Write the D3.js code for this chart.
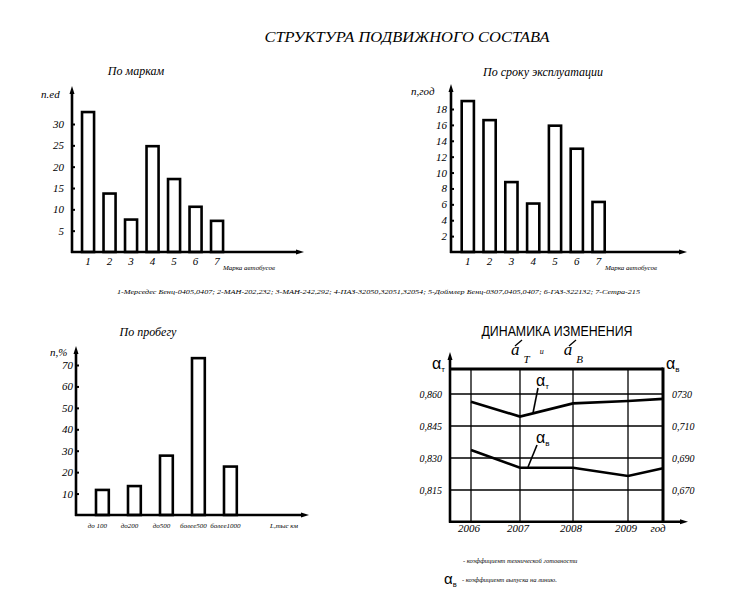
<!DOCTYPE html>
<html>
<head>
<meta charset="utf-8">
<script src="https://cdn.jsdelivr.net/npm/d3@7"></script>
<style>
  body { margin: 0; background: #fff; }
  text { font-family: "Liberation Serif", "Times New Roman", serif; font-style: italic; fill: #000; }
  text.sans { font-family: "Liberation Sans", Arial, sans-serif; font-style: normal; }
</style>
</head>
<body>
<svg id="chart" width="751" height="600"></svg>
<script>
// данные
var brandCats = ["1", "2", "3", "4", "5", "6", "7"];
var brandCounts = [32.8, 13.7, 7.6, 24.8, 17.1, 10.6, 7.3];
var brandTicks = [5, 10, 15, 20, 25, 30];

var ageValues = [19.0, 16.6, 8.8, 6.1, 15.9, 13.0, 6.3];
var ageTicks = [2, 4, 6, 8, 10, 12, 14, 16, 18];

var mileageCats = ["до 100", "до200", "до500", "более500", "более1000"];
var mileageShares = [11.7, 13.5, 27.7, 73.2, 22.6];
var mileageTicks = [10, 20, 30, 40, 50, 60, 70];

var years = [2006, 2007, 2008, 2009, 2010];
var yearLabels = ["2006", "2007", "2008", "2009", "год"];
var alphaT = [0.8564, 0.8494, 0.8556, 0.8567, 0.8577];
var alphaB = [0.6950, 0.6839, 0.6839, 0.6788, 0.6836];
var alphaTTicks = [0.815, 0.830, 0.845, 0.860];
var alphaTLabels = ["0,815", "0,830", "0,845", "0,860"];
var alphaBTicks = [0.670, 0.690, 0.710, 0.730];
var alphaBLabels = ["0,670", "0,690", "0,710", "0730"];

var legendText = "1-Мерседес Бенц-0405,0407; 2-МАН-202,232; 3-МАН-242,292;  4-ПАЗ-32050,32051,32054;   5-Доймлер Бенц-0307,0405,0407; 6-ГАЗ-322132; 7-Сетра-215";

var svg = d3.select("#chart");
svg.append("rect").attr("width", 751).attr("height", 600).attr("fill", "#fff");

svg.append("text")
  .attr("x", 407).attr("y", 42)
  .attr("text-anchor", "middle")
  .attr("font-size", "14px")
  .attr("textLength", 285).attr("lengthAdjust", "spacingAndGlyphs")
  .text("СТРУКТУРА ПОДВИЖНОГО СОСТАВА");

// стрелка на конце оси
function arrow (g, x, y, dir){
  var p;
  if (dir == "up") p = [[x, y], [x-2.5, y+8], [x+2.5, y+8]];
  else p = [[x, y], [x-8, y-2.5], [x-8, y+2.5]];
  g.append("path").attr("d", "M" + p.join("L") + "Z").attr("fill", "#000");
}

// гистограмма
function drawbars (o){
  var g = svg.append("g");
  var x = d3.scaleBand().domain(o.cats).range(o.band)
    .paddingInner(o.pin).paddingOuter(o.pout);
  var y = d3.scaleLinear().domain([0, o.ymax]).range([o.bottom, o.ytop]);

  g.selectAll("rect.bar").data(o.values).enter().append("rect")
    .attr("class", "bar")
    .attr("x", function(d, i){ return x(o.cats[i]); })
    .attr("y", function(d){ return y(d); })
    .attr("width", x.bandwidth())
    .attr("height", function(d){ return o.bottom - y(d); })
    .attr("fill", "#fff")
    .attr("stroke", "#000")
    .attr("stroke-width", 2.6);

  var ax = g.append("g").attr("transform", "translate(" + o.left + ",0)")
    .call(d3.axisLeft(y).tickValues(o.ticks).tickSize(-3).tickPadding(o.pad));
  ax.select(".domain").remove();
  ax.selectAll(".tick line").attr("stroke", "#000").attr("stroke-width", 2);
  ax.selectAll(".tick text").attr("font-size", "11px");

  g.append("line").attr("x1", o.left).attr("x2", o.left)
    .attr("y1", o.bottom + 1).attr("y2", o.arrowTop + 6)
    .attr("stroke", "#000").attr("stroke-width", 2.6);
  arrow(g, o.left, o.arrowTop, "up");
  g.append("line").attr("x1", o.left - 1).attr("x2", o.right - 6)
    .attr("y1", o.bottom).attr("y2", o.bottom)
    .attr("stroke", "#000").attr("stroke-width", 2.6);
  arrow(g, o.right, o.bottom, "right");

  g.selectAll("text.cat").data(o.cats).enter().append("text")
    .attr("class", "cat")
    .attr("x", function(d){ return x(d) + x.bandwidth()/2 + o.catdx; })
    .attr("y", o.bottom + o.catdy)
    .attr("text-anchor", "middle")
    .attr("font-size", o.catsize)
    .text(function(d){ return d; });

  g.append("text").attr("x", o.titleX).attr("y", o.titleY)
    .attr("text-anchor", "middle").attr("font-size", "12px").text(o.title);
  g.append("text").attr("x", o.ylabX).attr("y", o.ylabY)
    .attr("font-size", "11px").text(o.ylab);
  g.append("text").attr("x", o.xlabX).attr("y", o.xlabY)
    .attr("font-size", o.xlabSize).text(o.xlab);
}

drawbars({
  cats: brandCats, values: brandCounts, ticks: brandTicks, ymax: 30,
  band: [77.3, 227.8], pin: 0.44, pout: 0.22,
  left: 72, bottom: 252, ytop: 124, arrowTop: 86, right: 304, pad: 8,
  catdx: 0, catdy: 13, catsize: "11px",
  title: "По маркам", titleX: 136, titleY: 75,
  ylab: "n.ed", ylabX: 41, ylabY: 98,
  xlab: "Марка автобусов", xlabX: 223, xlabY: 270, xlabSize: "7px"
});

drawbars({
  cats: brandCats, values: ageValues, ticks: ageTicks, ymax: 18,
  band: [456.9, 609.5], pin: 0.44, pout: 0.22,
  left: 451, bottom: 252, ytop: 109, arrowTop: 84, right: 687, pad: 4,
  catdx: 0, catdy: 13, catsize: "11px",
  title: "По сроку эксплуатации", titleX: 543, titleY: 76,
  ylab: "n,год", ylabX: 411, ylabY: 95,
  xlab: "Марка автобусов", xlabX: 605, xlabY: 270, xlabSize: "7px"
});

drawbars({
  cats: mileageCats, values: mileageShares, ticks: mileageTicks, ymax: 70,
  band: [86.4, 246.4], pin: 0.6, pout: 0.3,
  left: 76, bottom: 515, ytop: 365, arrowTop: 346, right: 309, pad: 3,
  catdx: -5, catdy: 13, catsize: "7px",
  title: "По пробегу", titleX: 148, titleY: 336,
  ylab: "n,%", ylabX: 50, ylabY: 356,
  xlab: "L,тыс км", xlabX: 270, xlabY: 528, xlabSize: "7px"
});

svg.append("text")
  .attr("x", 117).attr("y", 294)
  .attr("font-size", "7px")
  .attr("textLength", 523).attr("lengthAdjust", "spacingAndGlyphs")
  .text(legendText);

// динамика изменения
function drawdynamics (){
  var g = svg.append("g");
  var left = 450, right = 663, top = 369, bottom = 521.7, w = right - left;
  var x = d3.scaleLinear()
    .domain([2005.6, 2006, 2007, 2008, 2009, 2010])
    .range([0, 0.0986, 0.3286, 0.5775, 0.8357, 1].map(function(f){ return left + f*w; }));
  var yT = d3.scaleLinear().domain([0.815, 0.860]).range([490, 394]);
  var yB = d3.scaleLinear().domain([0.670, 0.730]).range([490, 394]);

  // сетка
  g.selectAll("line.hg").data(alphaTTicks).enter().append("line")
    .attr("x1", left).attr("x2", right)
    .attr("y1", function(d){ return yT(d); }).attr("y2", function(d){ return yT(d); })
    .attr("stroke", "#000").attr("stroke-width", 1.3);
  g.selectAll("line.vg").data(years.slice(0, 4)).enter().append("line")
    .attr("x1", function(d){ return x(d); }).attr("x2", function(d){ return x(d); })
    .attr("y1", top).attr("y2", bottom)
    .attr("stroke", "#000").attr("stroke-width", 1.3);

  g.append("line").attr("x1", left).attr("x2", right).attr("y1", top).attr("y2", top)
    .attr("stroke", "#000").attr("stroke-width", 3);
  g.append("line").attr("x1", right).attr("x2", right).attr("y1", top - 1.5).attr("y2", bottom)
    .attr("stroke", "#000").attr("stroke-width", 3);
  g.append("line").attr("x1", left).attr("x2", left).attr("y1", bottom + 1).attr("y2", 359)
    .attr("stroke", "#000").attr("stroke-width", 2.6);
  arrow(g, left, 352, "up");
  g.append("line").attr("x1", left - 1).attr("x2", 681).attr("y1", bottom).attr("y2", bottom)
    .attr("stroke", "#000").attr("stroke-width", 2.6);
  arrow(g, 688, bottom, "right");

  var line = d3.line().x(function(d, i){ return x(years[i]); });
  g.append("path").datum(alphaT)
    .attr("d", line.y(function(d){ return yT(d); }))
    .attr("fill", "none").attr("stroke", "#000").attr("stroke-width", 2.6);
  g.append("path").datum(alphaB)
    .attr("d", line.y(function(d){ return yB(d); }))
    .attr("fill", "none").attr("stroke", "#000").attr("stroke-width", 2.6);

  // подписи осей
  g.selectAll("text.lt").data(alphaTTicks).enter().append("text")
    .attr("x", 442).attr("y", function(d){ return yT(d) + 4; })
    .attr("text-anchor", "end").attr("font-size", "10px")
    .text(function(d, i){ return alphaTLabels[i]; });
  g.selectAll("text.rt").data(alphaBTicks).enter().append("text")
    .attr("x", 672).attr("y", function(d){ return yB(d) + 4; })
    .attr("font-size", "10px")
    .text(function(d, i){ return alphaBLabels[i]; });
  g.selectAll("text.yr").data(years).enter().append("text")
    .attr("x", function(d){ return x(d) - (d == 2010 ? 5 : 2); }).attr("y", 532)
    .attr("text-anchor", "middle").attr("font-size", "11px")
    .text(function(d, i){ return yearLabels[i]; });

  // обозначения
  function alpha (px, py, sub, size){
    var t = g.append("text").attr("class", "sans").attr("x", px).attr("y", py)
      .attr("font-size", size + "px");
    t.append("tspan").text("α");
    t.append("tspan").attr("font-size", (size*0.5) + "px").attr("dy", size*0.2).text(sub);
  }
  alpha(432, 369, "т", 16);
  alpha(666, 369, "в", 16);
  alpha(536, 386, "т", 16);
  alpha(536, 443, "в", 16);
  g.append("line").attr("x1", 538).attr("y1", 388).attr("x2", 533).attr("y2", 413)
    .attr("stroke", "#000").attr("stroke-width", 1.6);
  g.append("line").attr("x1", 537).attr("y1", 445).attr("x2", 528).attr("y2", 467)
    .attr("stroke", "#000").attr("stroke-width", 1.6);

  g.append("text").attr("class", "sans")
    .attr("x", 557).attr("y", 336).attr("text-anchor", "middle")
    .attr("font-size", "15px")
    .attr("textLength", 151).attr("lengthAdjust", "spacingAndGlyphs")
    .text("ДИНАМИКА   ИЗМЕНЕНИЯ");

  var sub = g.append("text").attr("x", 511).attr("y", 355).attr("font-size", "17px");
  sub.append("tspan").text("a");
  sub.append("tspan").attr("font-size", "11px").attr("dx", 4).attr("dy", 8).text("T");
  sub.append("tspan").attr("font-size", "8px").attr("dx", 10).attr("dy", -9).text("и");
  sub.append("tspan").attr("font-size", "17px").attr("dx", 20).attr("dy", 1).text("a");
  sub.append("tspan").attr("font-size", "11px").attr("dx", 4).attr("dy", 8).text("B");
  g.append("line").attr("x1", 522).attr("y1", 340).attr("x2", 515).attr("y2", 346)
    .attr("stroke", "#000").attr("stroke-width", 1.3);
  g.append("line").attr("x1", 576).attr("y1", 340).attr("x2", 569).attr("y2", 346)
    .attr("stroke", "#000").attr("stroke-width", 1.3);

  // пояснения
  g.append("text").attr("x", 463).attr("y", 563).attr("font-size", "6.5px")
    .text("- коэффициент технической готовности");
  alpha(444, 584, "в", 15);
  g.append("text").attr("x", 462).attr("y", 582).attr("font-size", "6.5px")
    .text("- коэффициент выпуска на линию.");
}
drawdynamics();
</script>
</body>
</html>
